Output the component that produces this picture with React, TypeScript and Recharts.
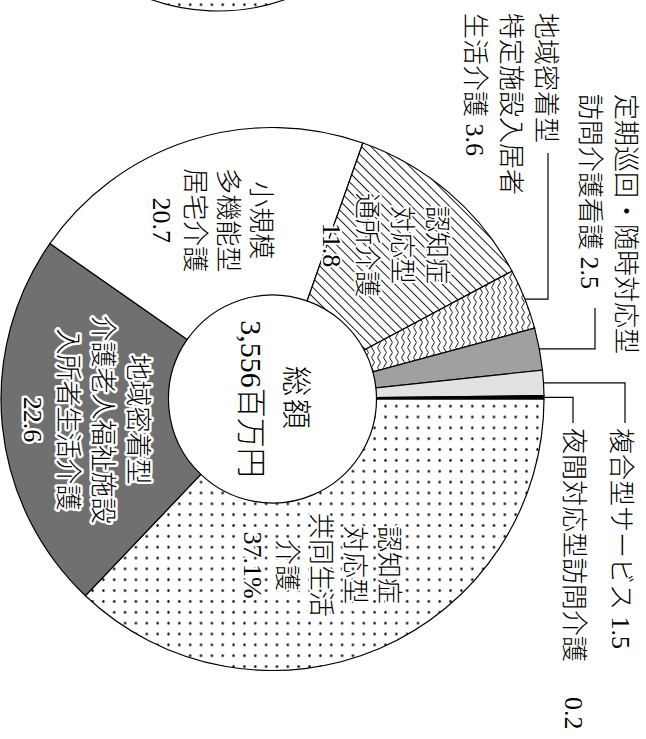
import React from 'react';
import { Cell, Pie, PieChart } from 'recharts';

// 構成比（%）
const categories = [
  '認知症対応型共同生活介護',
  '地域密着型介護老人福祉施設入所者生活介護',
  '小規模多機能型居宅介護',
  '認知症対応型通所介護',
  '地域密着型特定施設入居者生活介護',
  '定期巡回・随時対応型訪問介護看護',
  '複合型サービス',
  '夜間対応型訪問介護',
];
const shares = [37.1, 22.6, 20.7, 11.8, 3.6, 2.5, 1.5, 0.2];
const labelNames = [
  ['認知症', '対応型', '共同生活', '介護'],
  ['地域密着型', '介護老人福祉施設', '入所者生活介護'],
  ['小規模', '多機能型', '居宅介護'],
  ['認知症', '対応型', '通所介護'],
  ['地域密着型', '特定施設入居者', '生活介護'],
  ['定期巡回・随時対応型', '訪問介護看護'],
  ['複合型サービス'],
  ['夜間対応型訪問介護'],
];
const totalTitle = '総額';
const totalValue = '3,556百万円';
// the edge of the neighbouring chart that is cut off at the top
const neighbourShares = [100];

const data = categories.map((name, i) => ({ name, value: shares[i] }));
const neighbourData = neighbourShares.map((value, i) => ({ name: `n${i}`, value }));

// chart is drawn upright, then turned 90° clockwise
const W = 739;
const H = 646;
const CX = 399;
const CY = 373.5;
const R_OUT = 271.5;
const R_IN = 104;
const FONT = "'Liberation Serif', 'Noto Sans CJK JP', serif";
const RAD = Math.PI / 180;

const fills = ['url(#dots)', '#707070', '#ffffff', 'url(#hatch)', 'url(#waves)', '#a0a0a0', '#e2e2e2', '#000000'];

const innerLayout = [
  { r: 173, shift: -7, gap: 34 },
  { r: 189, shift: 0.5, gap: 35 },
  { r: 189, shift: 1.2, gap: 33 },
  { r: 190, shift: 4.8, gap: 35 },
];

const outerLayout: Record<number, { x: number; ys: number[]; elbowY: number; endX: number; valueX?: number }> = {
  4: { x: 13, ys: [101, 136, 172], elbowY: 98, endX: 153 },
  5: { x: 94, ys: [21, 57], elbowY: 51, endX: 308 },
  6: { x: 428, ys: [26], elbowY: 21, endX: 423 },
  7: { x: 428, ys: [73], elbowY: 73, endX: 423, valueX: 697 },
};

const polar = (angle: number, r: number) => ({
  x: CX + r * Math.cos(angle * RAD),
  y: CY - r * Math.sin(angle * RAD),
});

const halo = { stroke: '#fff', strokeWidth: 4, paintOrder: 'stroke' as const, strokeLinejoin: 'round' as const };

function renderLabel(props: any) {
  const { index, midAngle } = props;
  const value = shares[index];
  const names = labelNames[index];
  if (index < 4) {
    const lay = innerLayout[index];
    const p = polar(midAngle + lay.shift, lay.r);
    const lines = [...names, index === 0 ? `${value}%` : `${value}`];
    const top = p.y - ((lines.length - 1) * lay.gap) / 2;
    const style = index === 1 ? { ...halo, strokeWidth: 5 } : halo;
    return (
      <g>
        {lines.map((t, k) => (
          <text key={k} x={p.x} y={top + k * lay.gap} textAnchor="middle" dominantBaseline="central"
            fontFamily={FONT} fontWeight={300} fontSize={26} fill="#000" {...style}>
            {t}
          </text>
        ))}
      </g>
    );
  }
  const lay = outerLayout[index];
  const start = polar(midAngle, R_OUT);
  const lines = names.map((t, k) => (k === names.length - 1 && lay.valueX === undefined ? `${t} ${value}` : t));
  return (
    <g>
      <polyline
        points={`${start.x},${start.y} ${start.x},${lay.elbowY} ${lay.endX},${lay.elbowY}`}
        fill="none" stroke="#000" strokeWidth={1.2}
      />
      {lines.map((t, k) => (
        <text key={k} x={lay.x} y={lay.ys[k]} dominantBaseline="central" fontFamily={FONT} fontWeight={300} fontSize={26} fill="#000">
          {t}
        </text>
      ))}
      {lay.valueX !== undefined && (
        <text x={lay.valueX} y={lay.ys[0]} dominantBaseline="central" fontFamily={FONT} fontWeight={300} fontSize={26} fill="#000">
          {value}
        </text>
      )}
    </g>
  );
}

export default function App() {
  return (
    <div style={{ position: 'fixed', left: 0, top: 0, width: 646, height: 739, overflow: 'hidden', background: '#fff' }}>
      <div
        style={{
          position: 'absolute', left: 0, top: 0, width: W, height: H,
          transformOrigin: '0 0', transform: `translate(${H}px, 0) rotate(90deg)`,
        }}
      >
        <PieChart width={W} height={H} margin={{ top: 0, right: 0, bottom: 0, left: 0 }}>
          <defs>
            <pattern id="dots" patternUnits="userSpaceOnUse" width={10.85} height={10.85} x={-0.7} y={-5.3}>
              <rect width={10.85} height={10.85} fill="#fff" />
              <circle cx={5.4} cy={5.4} r={1.3} fill="#000" />
            </pattern>
            <pattern id="hatch" patternUnits="userSpaceOnUse" width={12} height={6.7} patternTransform="rotate(-45)">
              <rect width={12} height={6.7} fill="#fff" />
              <line x1={0} y1={3.35} x2={12} y2={3.35} stroke="#000" strokeWidth={0.9} />
            </pattern>
            <pattern id="waves" patternUnits="userSpaceOnUse" width={10} height={6}>
              <rect width={10} height={6} fill="#fff" />
              <path d="M0 3 Q2.5 0.2 5 3 T10 3" fill="none" stroke="#000" strokeWidth={0.9} />
            </pattern>
          </defs>
          <Pie
            data={neighbourData} dataKey="value" cx={-189} cy={428} outerRadius={200} innerRadius={0}
            startAngle={90} endAngle={-270} stroke="#000" strokeWidth={1.2} isAnimationActive={false} label={false}
          >
            {neighbourData.map((d, i) => (
              <Cell key={`n-${i}`} fill="url(#dots)" />
            ))}
          </Pie>
          <Pie
            data={data} dataKey="value" nameKey="name" cx={CX} cy={CY} innerRadius={R_IN} outerRadius={R_OUT}
            startAngle={90} endAngle={-270} stroke="#000" strokeWidth={1.2} isAnimationActive={false}
            label={renderLabel} labelLine={false}
          >
            {data.map((d, i) => (
              <Cell key={`c-${i}`} fill={fills[i]} />
            ))}
          </Pie>
          <text x={CX} y={CY - 24} textAnchor="middle" dominantBaseline="central" fontFamily={FONT} fontWeight={300} fontSize={30} letterSpacing={3}>
            {totalTitle}
          </text>
          <text x={CX} y={CY + 21.5} textAnchor="middle" dominantBaseline="central" fontFamily={FONT} fontWeight={300} fontSize={30}>
            {totalValue}
          </text>
        </PieChart>
      </div>
    </div>
  );
}
